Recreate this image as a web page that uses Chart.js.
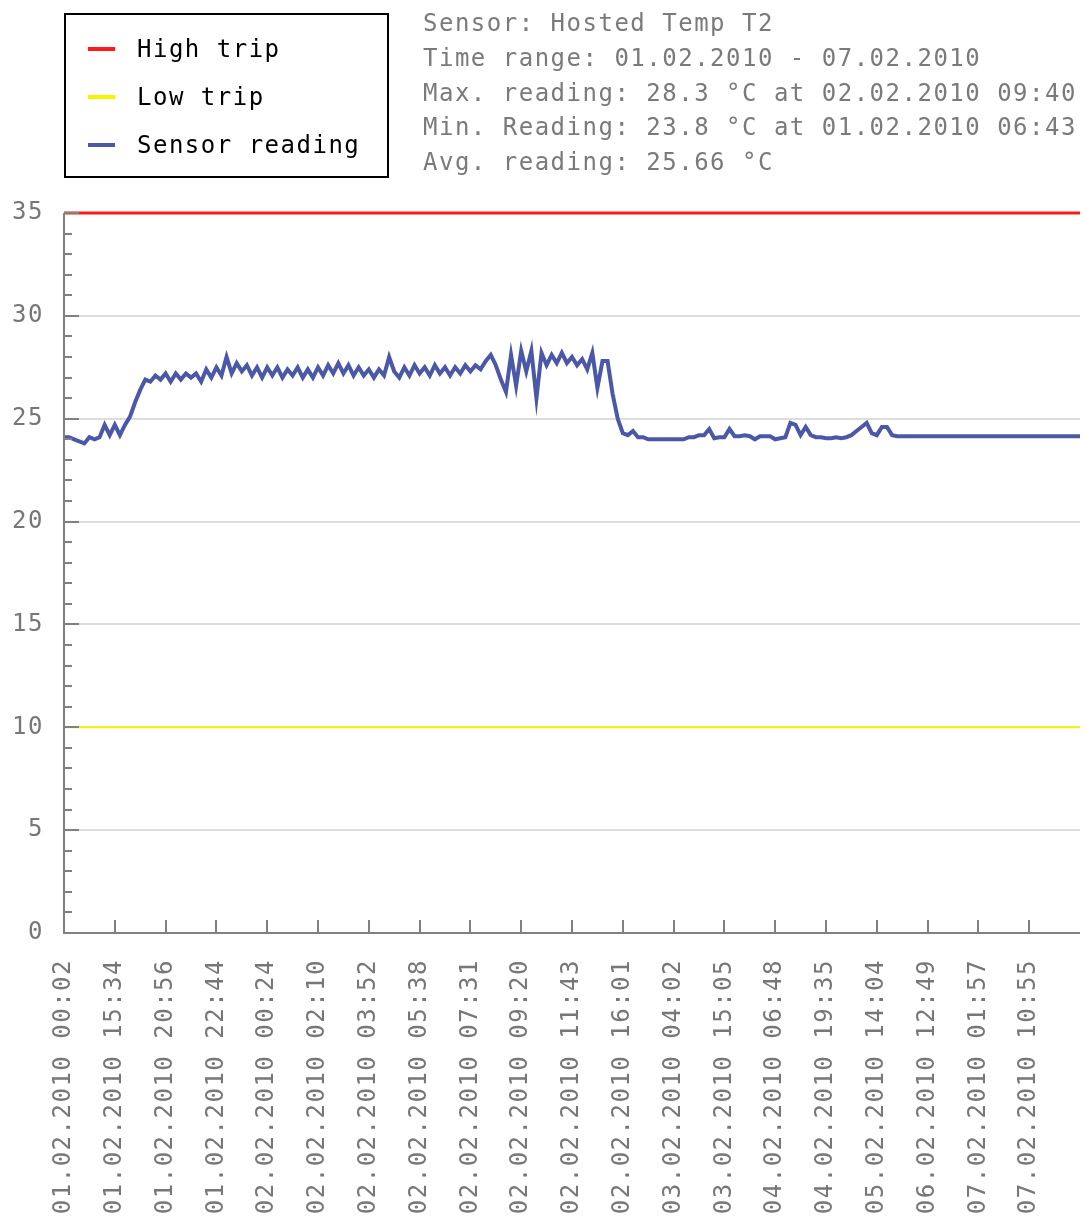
<!DOCTYPE html>
<html>
<head>
<meta charset="utf-8">
<script src="https://cdn.jsdelivr.net/npm/chart.js@4.4.1/dist/chart.umd.min.js"></script>
<style>
  body { margin: 0; background: #fff; }
  #wrap { position: relative; width: 1084px; height: 1216px; }
  #wrap canvas { position: absolute; left: 0; top: 0; }
  .txt { font-family: "DejaVu Sans Mono", monospace; font-size: 24px; letter-spacing: 1.5px; white-space: pre; }
  #legend { position: absolute; left: 64px; top: 13px; width: 325px; height: 165px; box-sizing: border-box; border: 2px solid #000; }
  #legend .row { position: absolute; left: 0; height: 30px; line-height: 30px; color: #000; }
  #legend .mark { position: absolute; left: 22px; top: 13px; width: 27px; height: 4px; }
  #legend .lbl { position: absolute; left: 71px; top: 0; }
  #info { position: absolute; left: 423px; top: 6px; color: #7a7a7a; line-height: 34.8px; }
</style>
</head>
<body>
<div id="wrap">
  <canvas id="chart" width="1084" height="1216"></canvas>
  <div id="legend" class="txt"></div>
  <div id="info" class="txt"></div>
</div>
<script>
// TICK LABELS (one per label step on the x axis)
const tickLabels = [
  "01.02.2010 00:02", "01.02.2010 15:34", "01.02.2010 20:56", "01.02.2010 22:44",
  "02.02.2010 00:24", "02.02.2010 02:10", "02.02.2010 03:52", "02.02.2010 05:38",
  "02.02.2010 07:31", "02.02.2010 09:20", "02.02.2010 11:43", "02.02.2010 16:01",
  "03.02.2010 04:02", "03.02.2010 15:05", "04.02.2010 06:48", "04.02.2010 19:35",
  "05.02.2010 14:04", "06.02.2010 12:49", "07.02.2010 01:57", "07.02.2010 10:55"
];

// SENSOR READINGS, 10 samples per label step
const samplesPerLabel = 10;
const sensorValues = [
  24.1, 24.1, 24.0, 23.9, 23.8, 24.1, 24.0, 24.1, 24.7, 24.2,
  24.7, 24.2, 24.7, 25.1, 25.8, 26.4, 26.9, 26.8, 27.1, 26.9,
  27.2, 26.8, 27.2, 26.9, 27.2, 27.0, 27.2, 26.8, 27.4, 27.0,
  27.5, 27.1, 28.0, 27.2, 27.7, 27.3, 27.6, 27.1, 27.5, 27.0,
  27.5, 27.1, 27.5, 27.0, 27.4, 27.1, 27.5, 27.0, 27.4, 27.0,
  27.5, 27.1, 27.6, 27.2, 27.7, 27.2, 27.6, 27.1, 27.5, 27.1,
  27.4, 27.0, 27.4, 27.1, 28.0, 27.3, 27.0, 27.5, 27.1, 27.6,
  27.2, 27.5, 27.1, 27.6, 27.2, 27.5, 27.1, 27.5, 27.2, 27.6,
  27.3, 27.6, 27.4, 27.8, 28.1, 27.6, 26.9, 26.3, 28.1, 26.6,
  28.3, 27.3, 28.3, 26.0, 28.2, 27.6, 28.1, 27.7, 28.2, 27.7,
  28.0, 27.6, 27.9, 27.4, 28.2, 26.5, 27.8, 27.8, 26.2, 25.0,
  24.3, 24.2, 24.4, 24.1, 24.1, 24.0, 24.0, 24.0, 24.0, 24.0,
  24.0, 24.0, 24.0, 24.1, 24.1, 24.2, 24.2, 24.5, 24.05, 24.1,
  24.1, 24.5, 24.15, 24.15, 24.2, 24.15, 24.0, 24.15, 24.15, 24.15,
  24.0, 24.05, 24.1, 24.8, 24.7, 24.2, 24.6, 24.2, 24.1, 24.1,
  24.05, 24.05, 24.1, 24.05, 24.1, 24.2, 24.4, 24.6, 24.8, 24.3,
  24.2, 24.6, 24.6, 24.2, 24.15, 24.15, 24.15, 24.15, 24.15, 24.15,
  24.15, 24.15, 24.15, 24.15, 24.15, 24.15, 24.15, 24.15, 24.15, 24.15,
  24.15, 24.15, 24.15, 24.15, 24.15, 24.15, 24.15, 24.15, 24.15, 24.15,
  24.15, 24.15, 24.15, 24.15, 24.15, 24.15, 24.15, 24.15, 24.15, 24.15,
  24.15
];

// TRIP LEVELS
const highTrip = 35;
const lowTrip = 10;

// INFO BLOCK
const infoLines = [
  "Sensor: Hosted Temp T2",
  "Time range: 01.02.2010 - 07.02.2010",
  "Max. reading: 28.3 °C at 02.02.2010 09:40",
  "Min. Reading: 23.8 °C at 01.02.2010 06:43",
  "Avg. reading: 25.66 °C"
];

const xMax = 20;
const axisColor = "#808080";
const FONT = { family: "'DejaVu Sans Mono', monospace", size: 24 };

// draws the small inside tick marks like the original
const tickPlugin = {
  id: "insideTicks",
  beforeDraw(chart) { chart.ctx.letterSpacing = "1.5px"; },
  afterDraw(chart) {
    const { ctx, chartArea, scales } = chart;
    ctx.save();
    ctx.strokeStyle = axisColor;
    ctx.lineWidth = 2;
    ctx.beginPath();
    ctx.moveTo(chartArea.left, chartArea.top);
    ctx.lineTo(chartArea.left, chartArea.bottom);
    ctx.lineTo(chartArea.right, chartArea.bottom);
    for (let v = 0; v <= 35; v++) {
      const y = Math.round(scales.y.getPixelForValue(v));
      const len = v % 5 === 0 ? 15 : 8;
      ctx.moveTo(chartArea.left, y);
      ctx.lineTo(chartArea.left + len, y);
    }
    for (let i = 1; i < tickLabels.length; i++) {
      const x = Math.round(scales.x.getPixelForValue(i));
      ctx.moveTo(x, chartArea.bottom);
      ctx.lineTo(x, chartArea.bottom - 13);
    }
    ctx.stroke();
    ctx.restore();
  }
};

function flat(v) {
  return [{ x: 0, y: v }, { x: xMax, y: v }];
}

const chart = new Chart(document.getElementById("chart"), {
  type: "line",
  data: {
    datasets: [
      { label: "High trip", data: flat(highTrip), borderColor: "#ff1a1a", borderWidth: 3, pointRadius: 0, clip: 4 },
      { label: "Low trip", data: flat(lowTrip), borderColor: "#f5f500", borderWidth: 2, pointRadius: 0 },
      { label: "Sensor reading",
        data: sensorValues.map((v, i) => ({ x: i / samplesPerLabel, y: v })),
        borderColor: "#4b58a8", borderWidth: 4, pointRadius: 0, borderJoinStyle: "miter" }
    ]
  },
  options: {
    responsive: false,
    animation: false,
    layout: { padding: { top: 213, right: 4, left: 0, bottom: 0 } },
    plugins: { legend: { display: false }, tooltip: { enabled: false } },
    scales: {
      x: {
        type: "linear", min: 0, max: xMax,
        grid: { display: false, drawTicks: false },
        border: { display: false },
        afterFit(s) { s.height = 283; s.paddingLeft = 0; s.paddingRight = 0; },
        ticks: {
          stepSize: 1, autoSkip: false, minRotation: 90, maxRotation: 90,
          padding: 26, color: "#777", font: FONT,
          callback: v => tickLabels[v] || ""
        }
      },
      y: {
        min: 0, max: 35,
        grid: { color: "#dddddd", lineWidth: 2, drawTicks: false },
        border: { display: false },
        afterFit(s) { s.width = 64; s.paddingTop = 0; s.paddingBottom = 0; },
        ticks: { stepSize: 5, padding: 20, color: "#777", font: FONT }
      }
    }
  },
  plugins: [tickPlugin]
});

// HTML LEGEND BUILT FROM THE DATASETS
const legendEl = document.getElementById("legend");
chart.data.datasets.forEach((ds, i) => {
  const row = document.createElement("div");
  row.className = "row";
  row.style.top = (19 + i * 48) + "px";
  row.innerHTML = '<span class="mark" style="background:' + ds.borderColor + '"></span><span class="lbl">' + ds.label + '</span>';
  legendEl.appendChild(row);
});

document.getElementById("info").textContent = infoLines.join("\n");
</script>
</body>
</html>
